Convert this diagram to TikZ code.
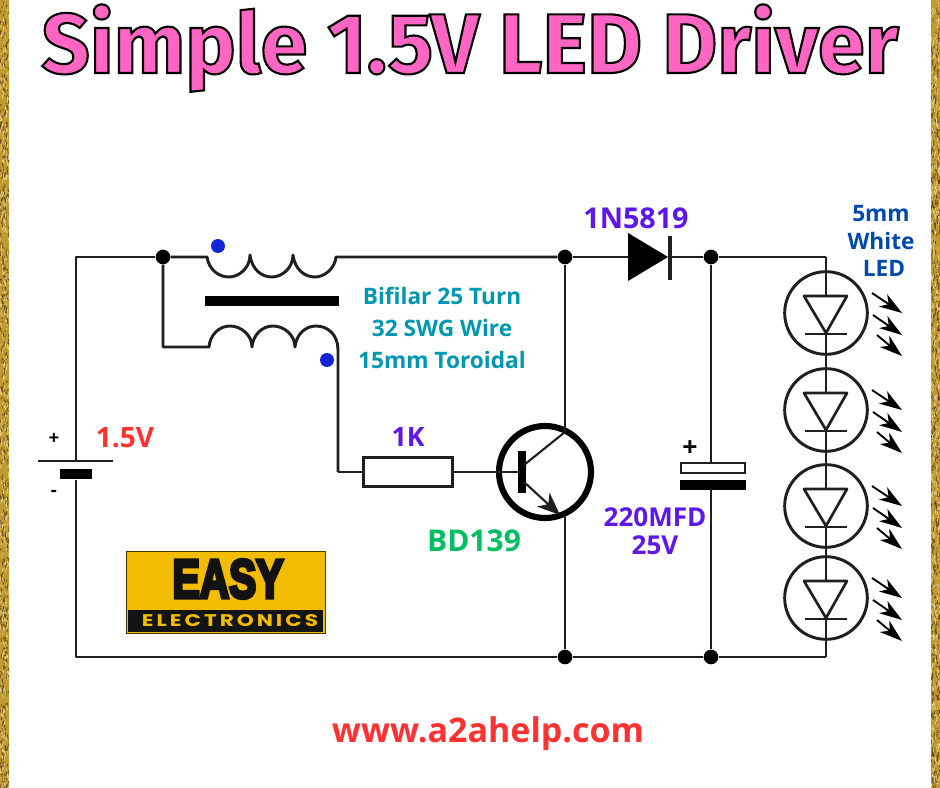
\documentclass[tikz,border=0pt]{standalone}
\usepackage{fontspec}
\setmainfont{Open Sans}
\newfontfamily\lblfont{Open Sans}[UprightFont=* Bold]
\newfontfamily\titlefont{Fira Sans}[UprightFont=* Bold]
\newfontfamily\logofont{Liberation Sans}[UprightFont=* Bold]
\newfontfamily\logotwofont{Poppins}[UprightFont=* Bold,LetterSpace=14]
\usetikzlibrary{arrows.meta}
\definecolor{goldbase}{HTML}{C09A30}
\definecolor{golddark}{HTML}{5E4210}
\definecolor{goldlight}{HTML}{F3DF9A}
\definecolor{titlepink}{HTML}{FF66C4}
\definecolor{lblred}{HTML}{FF3131}
\definecolor{lblpurple}{HTML}{5E17EB}
\definecolor{lblgreen}{HTML}{00BF63}
\definecolor{lblteal}{HTML}{0097B2}
\definecolor{lblblue}{HTML}{004AAD}
\definecolor{logoyellow}{HTML}{F2BC00}
\definecolor{dotblue}{HTML}{1226D8}
\newcommand{\outlinedtext}[1]{\special{pdf:code q 2 Tr 1.6 w 0 0 0 RG 1 0.4 0.769 rg}#1\special{pdf:code Q}}
\newcommand{\heavytext}[1]{\special{pdf:code q 2 Tr 0.7 w 0.07 0.07 0.07 RG 0.07 0.07 0.07 rg}#1\special{pdf:code Q}}
\tikzset{
  wire/.style={line width=2.2pt,line join=round,draw=black!88},
  thinwire/.style={line width=1.6pt,draw=black!88},
  junct/.style={circle,fill=black,inner sep=0pt,minimum size=11pt},
  phasedot/.style={circle,fill=dotblue,inner sep=0pt,minimum size=10.5pt},
  lbl/.style={inner sep=0pt,anchor=center},
  ledring/.style={circle,draw=black!88,line width=2.2pt,minimum size=62pt,inner sep=0pt},
  ray/.style={line width=1.4pt,draw=black,-{Stealth[length=17pt,width=11pt,inset=5pt]}},
  sz/.style={font=\lblfont\fontsize{#1}{#1}\selectfont},
}
\newcommand{\ledunit}[2]{%
  \node[ledring] (#1ring) at (826,-#2) {};
  \coordinate (#1tl) at (804,-#2+17);
  \coordinate (#1tr) at (847,-#2+17);
  \coordinate (#1apex) at (826,-#2-20);
  \coordinate (#1top) at (826,-#2+17);
  \coordinate (#1barl) at (805,-#2-21);
  \coordinate (#1barr) at (847,-#2-21);
  \draw[wire,line width=2pt] (#1tl) -- (#1tr) -- (#1apex) -- cycle;
  \draw[wire,line width=2pt] (#1barl) -- (#1barr);
  \foreach \k/\sx/\sy/\ex/\ey in {a/872/-20/902/0,b/873/2/902/22,c/877/22/902/43}{
    \coordinate (#1\k s) at (\sx,-#2-\sy);
    \coordinate (#1\k e) at (\ex,-#2-\ey);
    \draw[ray] (#1\k s) -- (#1\k e);
  }%
}
\begin{document}
\begin{tikzpicture}[x=0.75pt,y=0.75pt]
\useasboundingbox (0,0) rectangle (940,-788);
\fill[white] (0,0) rectangle (940,-788);
% gold side strips
\fill[goldbase] (0,0) rectangle (9,-788);
\fill[goldbase] (931,0) rectangle (940,-788);
\pgfmathsetseed{42}
\begin{scope}
\clip (0,0) rectangle (9,-788) (931,0) rectangle (940,-788);
\foreach \i in {1,...,520}{
  \pgfmathsetmacro{\py}{-rnd*788}
  \pgfmathsetmacro{\pxa}{rnd*9}
  \pgfmathsetmacro{\pxb}{931+rnd*9}
  \pgfmathsetmacro{\dx}{rnd*3-1.5}
  \pgfmathsetmacro{\dy}{rnd*5+1}
  \draw[golddark,line width=0.5pt] (\pxa,\py) -- ++(\dx,-\dy);
  \draw[goldlight,line width=0.4pt] (\pxb,\py) -- ++(\dx,\dy);
  \draw[goldlight,line width=0.4pt] (\pxa,\py-7) -- ++(-\dx,\dy);
  \draw[golddark,line width=0.5pt] (\pxb,\py-7) -- ++(-\dx,-\dy);
}
\end{scope}
% title
\node[inner sep=0pt,anchor=base,font=\titlefont\fontsize{63.5}{64}\selectfont] (title) at (470,-73) {\outlinedtext{Simple 1.5V LED Driver}};
% key points
\coordinate (tl) at (76,-257);
\coordinate (bl) at (76,-657);
\node[junct] (j1) at (163,-257) {};
\node[junct] (j2) at (565,-257) {};
\node[junct] (j3) at (711,-257) {};
\node[junct] (j4) at (565,-657) {};
\node[junct] (j5) at (711,-657) {};
\coordinate (tr) at (826,-257);
\coordinate (br) at (826,-657);
% battery
\coordinate (batp) at (76,-461);
\coordinate (batL) at (38,-461);
\coordinate (batR) at (113,-461);
\draw[wire] (batp) -- (tl) -- (j1);
\draw[wire] (batL) -- (batR);
\node[fill=black,inner sep=0pt,minimum width=23.5pt,minimum height=8pt] (batplate) at (76,-474) {};
\draw[wire] (batplate) -- (bl) -- (j4);
\draw[wire] (j4) -- (j5) -- (br);
\node[lbl,sz=14] (batplus) at (54,-439) {+};
\node[lbl,sz=14] (batminus) at (54,-493) {-};
% top coil
\coordinate (c1a) at (207,-257);
\coordinate (c1b) at (336,-257);
\draw[wire] (j1) -- (c1a)
  .. controls (209,-270) and (219,-277) .. (229,-277)
  .. controls (239,-277) and (250,-268) .. (250,-255)
  .. controls (252,-270) and (262,-277) .. (272,-277)
  .. controls (282,-277) and (293,-268) .. (293,-255)
  .. controls (295,-270) and (305,-277) .. (315,-277)
  .. controls (325,-277) and (335,-268) .. (c1b)
  -- (j2);
\node[fill=black,inner sep=0pt,minimum width=100pt,minimum height=8pt] (core) at (272,-301) {};
% lower coil
\coordinate (c2a) at (209,-347);
\coordinate (c2turn) at (338,-472);
\draw[wire] (j1) -- (163,-347) -- (c2a)
  .. controls (210,-335) and (219,-326) .. (230,-326)
  .. controls (241,-326) and (252,-335) .. (252,-347)
  .. controls (253,-335) and (262,-326) .. (273,-326)
  .. controls (284,-326) and (295,-335) .. (295,-347)
  .. controls (296,-335) and (305,-326) .. (316,-326)
  .. controls (328,-326) and (338,-335) .. (338,-350)
  -- (c2turn);
\node[phasedot] (dot1) at (218,-246) {};
\node[phasedot] (dot2) at (327,-360) {};
% resistor
\node[draw=black!88,line width=2.2pt,fill=white,minimum width=67pt,minimum height=22pt,inner sep=0pt] (r1) at (408,-472) {};
\draw[wire] (c2turn) -- (r1.west);
% transistor
\node[circle,draw=black,line width=4.6pt,minimum size=69pt,inner sep=0pt] (q) at (545,-472) {};
\node[fill=black,inner sep=0pt,minimum width=5.5pt,minimum height=32pt] (qbase) at (522,-472) {};
\draw[wire] (r1.east) -- (qbase);
\coordinate (qc) at (565,-432);
\coordinate (qe) at (560,-515);
\coordinate (qes) at (565,-516);
\draw[thinwire] (524,-465) -- (qc);
\draw[wire] (qc) -- (j2);
\draw[thinwire,-{Stealth[length=17pt,width=14pt,inset=5pt]}] (524,-482) -- (qe);
\draw[wire] (qes) -- (j4);
% diode
\coordinate (da) at (628,-257);
\coordinate (dk) at (670,-257);
\draw[wire] (j2) -- (da);
\fill[black] (628,-233) -- (628,-281) -- (668,-257) -- cycle;
\draw[wire,line width=2.4pt] (670,-236) -- (670,-280);
\draw[wire] (dk) -- (j3) -- (tr);
% capacitor
\node[draw=black!88,line width=2pt,fill=white,minimum width=48pt,minimum height=7.5pt,inner sep=0pt] (cp) at (713,-468) {};
\node[fill=black,inner sep=0pt,minimum width=50pt,minimum height=7.5pt] (cn) at (713,-485) {};
\coordinate (cpw) at (711,-463);
\coordinate (cnw) at (711,-489);
\draw[wire] (j3) -- (cpw);
\draw[wire] (cnw) -- (j5);
\node[lbl,sz=20] (cplus) at (690,-449) {+};
% LEDs
\ledunit{la}{313}
\ledunit{lb}{410}
\ledunit{lc}{506}
\ledunit{ld}{598}
\draw[wire] (tr) -- (latop);
\draw[wire] (laapex) -- (lbtop);
\draw[wire] (lbapex) -- (lctop);
\draw[wire] (lcapex) -- (ldtop);
\draw[wire] (ldapex) -- (br);
% logo
\node[fill=logoyellow,draw=black!70!logoyellow,line width=0.5pt,minimum width=149pt,minimum height=61.5pt,inner sep=0pt] (logo) at (225.5,-592) {};
\node[inner sep=0pt] (easy) at (228,-579) {\resizebox{83pt}{28.5pt}{\logofont\heavytext{EASY}}};
\node[fill=black!92,minimum width=146pt,minimum height=16.5pt,inner sep=0pt] (band) at (225.5,-621) {};
\node[inner sep=0pt] (elec) at (230,-621) {\resizebox{132pt}{9pt}{\logotwofont\color{logoyellow}ELECTRONICS}};
% labels
\node[lbl,sz=21,text=lblred] (l15) at (125,-438) {1.5V};
\node[lbl,sz=20,text=lblpurple] (l1k) at (408,-437) {1K};
\node[lbl,sz=22.5,text=lblgreen] (lbd) at (474,-541) {BD139};
\node[lbl,sz=19.5,text=lblpurple] (l220) at (655,-517) {220MFD};
\node[lbl,sz=19.5,text=lblpurple] (l25) at (655,-545) {25V};
\node[lbl,sz=21.5,text=lblpurple] (ldio) at (636,-218) {1N5819};
\node[lbl,sz=17,text=lblteal] (lb1) at (442,-296) {Bifilar 25 Turn};
\node[lbl,sz=17,text=lblteal] (lb2) at (442,-328) {32 SWG Wire};
\node[lbl,sz=17,text=lblteal] (lb3) at (442,-360) {15mm Toroidal};
\node[lbl,sz=17,text=lblblue] (ll1) at (881,-214) {5mm};
\node[lbl,sz=17,text=lblblue] (ll2) at (881,-241) {White};
\node[lbl,sz=17,text=lblblue] (ll3) at (884,-268) {LED};
\node[lbl,sz=25.5,text=lblred] (web) at (488,-734) {www.a2ahelp.com};
\end{tikzpicture}
\end{document}
